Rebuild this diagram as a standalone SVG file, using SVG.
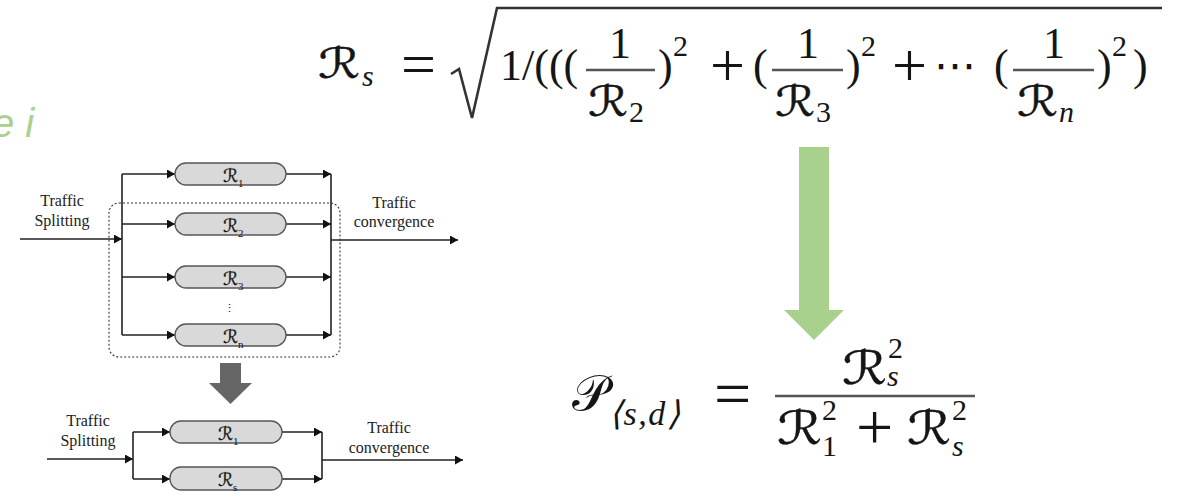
<svg xmlns="http://www.w3.org/2000/svg" width="1179" height="498" viewBox="0 0 1179 498">
<defs>
<marker id="ah" markerUnits="userSpaceOnUse" markerWidth="8" markerHeight="9" refX="8" refY="4.5" orient="auto"><path d="M0,0 L8,4.5 L0,9 z" fill="#111"/></marker>
<style>
.ln{stroke:#222;stroke-width:1.6;fill:none}
.pill{fill:#d9d9d9;stroke:#555;stroke-width:1.3}
.lbl{font-family:"Liberation Serif",serif;font-size:16px;fill:#222;text-anchor:middle}
.pr{font-family:"DejaVu Serif","DejaVu Sans",serif;font-size:18px;fill:#111;stroke:#111;stroke-width:0.3}
.ps{font-family:"Liberation Serif",serif;font-size:11px;fill:#111}
.m{font-family:"Liberation Serif",serif;font-size:44px;fill:#151515}
.mc{font-family:"DejaVu Serif","DejaVu Sans",serif;font-size:42px;fill:#151515;stroke:#151515;stroke-width:0.4}
.mcb{font-size:46px}
.nostroke{stroke:none}
.ms{font-family:"Liberation Serif",serif;font-size:30px;fill:#151515}
.mi{font-family:"Liberation Serif",serif;font-style:italic;font-size:30px;fill:#151515}
.mo{font-family:"Liberation Serif",serif;font-size:62px;fill:#151515}
.bar{stroke:#555;stroke-width:2.6}
</style>
</defs>
<rect width="1179" height="498" fill="#fff"/>
<text x="-8" y="137" font-family="Liberation Sans,sans-serif" font-style="italic" font-size="40" fill="#a9d18e">e i</text>

<g id="connectors">
<line class="ln" x1="20" y1="239" x2="122" y2="239" marker-end="url(#ah)"/>
<line class="ln" x1="122" y1="174" x2="122" y2="335"/>
<line class="ln" x1="122" y1="174" x2="175" y2="174" marker-end="url(#ah)"/>
<line class="ln" x1="122" y1="224" x2="175" y2="224" marker-end="url(#ah)"/>
<line class="ln" x1="122" y1="277" x2="175" y2="277" marker-end="url(#ah)"/>
<line class="ln" x1="122" y1="335" x2="175" y2="335" marker-end="url(#ah)"/>
<line class="ln" x1="286" y1="174" x2="331" y2="174" marker-end="url(#ah)"/>
<line class="ln" x1="286" y1="224" x2="331" y2="224" marker-end="url(#ah)"/>
<line class="ln" x1="286" y1="277" x2="331" y2="277" marker-end="url(#ah)"/>
<line class="ln" x1="286" y1="335" x2="331" y2="335" marker-end="url(#ah)"/>
<line class="ln" x1="331" y1="174" x2="331" y2="335"/>
<line class="ln" x1="331" y1="240" x2="458" y2="240" marker-end="url(#ah)"/>
<rect x="109" y="203" width="231" height="154" rx="10" fill="none" stroke="#333" stroke-width="1.1" stroke-dasharray="2,2"/>

<line class="ln" x1="47" y1="459" x2="133" y2="459" marker-end="url(#ah)"/>
<line class="ln" x1="133" y1="432" x2="133" y2="479"/>
<line class="ln" x1="133" y1="432" x2="170" y2="432" marker-end="url(#ah)"/>
<line class="ln" x1="133" y1="479" x2="170" y2="479" marker-end="url(#ah)"/>
<line class="ln" x1="282" y1="432" x2="322" y2="432" marker-end="url(#ah)"/>
<line class="ln" x1="282" y1="479" x2="322" y2="479" marker-end="url(#ah)"/>
<line class="ln" x1="322" y1="432" x2="322" y2="479"/>
<line class="ln" x1="322" y1="460" x2="463" y2="460" marker-end="url(#ah)"/>
</g>

<g id="n-r1"><rect class="pill" x="175" y="163" width="111" height="22" rx="11"/><text class="pr" x="223" y="182" textLength="15" lengthAdjust="spacingAndGlyphs">ℛ</text><text class="ps" x="238" y="187">1</text></g>
<g id="n-r2"><rect class="pill" x="175" y="213" width="111" height="22" rx="11"/><text class="pr" x="223" y="232" textLength="15" lengthAdjust="spacingAndGlyphs">ℛ</text><text class="ps" x="238" y="237">2</text></g>
<g id="n-r3"><rect class="pill" x="175" y="266" width="111" height="22" rx="11"/><text class="pr" x="223" y="285" textLength="15" lengthAdjust="spacingAndGlyphs">ℛ</text><text class="ps" x="238" y="290">3</text></g>
<g id="n-dots"><text class="ps" x="229" y="312" text-anchor="middle">⋮</text></g>
<g id="n-rn"><rect class="pill" x="175" y="324" width="111" height="22" rx="11"/><text class="pr" x="223" y="343" textLength="15" lengthAdjust="spacingAndGlyphs">ℛ</text><text class="ps" x="238" y="348">n</text></g>

<g id="lbl-split1"><text class="lbl" x="62" y="206">Traffic</text><text class="lbl" x="62" y="226">Splitting</text></g>
<g id="lbl-conv1"><text class="lbl" x="394" y="208">Traffic</text><text class="lbl" x="394" y="227">convergence</text></g>

<g id="gray-arrow"><polygon points="220,363 241,363 241,383 252,383 230.5,404 209,383 220,383" fill="#666"/></g>

<g id="n-b1"><rect class="pill" x="170" y="421" width="112" height="22" rx="11"/><text class="pr" x="218" y="440" textLength="15" lengthAdjust="spacingAndGlyphs">ℛ</text><text class="ps" x="233" y="445">1</text></g>
<g id="n-bs"><rect class="pill" x="170" y="467" width="112" height="23" rx="11"/><text class="pr" x="218" y="486" textLength="15" lengthAdjust="spacingAndGlyphs">ℛ</text><text class="ps" x="233" y="491">s</text></g>
<g id="lbl-split2"><text class="lbl" x="88" y="426">Traffic</text><text class="lbl" x="88" y="446">Splitting</text></g>
<g id="lbl-conv2"><text class="lbl" x="389" y="433">Traffic</text><text class="lbl" x="389" y="453">convergence</text></g>

<g id="green-arrow"><polygon points="799,147 829,147 829,310 844,310 814,340 784,310 799,310" fill="#a9d18e"/></g>

<g id="formula-top">
<text class="mc" x="318" y="78" textLength="42" lengthAdjust="spacingAndGlyphs">ℛ</text><text class="mi" x="362" y="86">s</text>
<text class="mo" x="401" y="85">=</text>
<path d="M451,74 L459,69 L472,118 L497,8 L1162,8" fill="none" stroke="#333" stroke-width="2.6"/>
<text class="m" x="500" y="80">1/(((</text>
<text class="m" x="620" y="58" text-anchor="middle">1</text>
<line class="bar" x1="586" y1="70" x2="655" y2="70"/>
<text class="mc" x="588" y="116" textLength="40" lengthAdjust="spacingAndGlyphs">ℛ</text><text class="ms" x="629" y="122">2</text>
<text class="m" x="658" y="80">)</text><text class="ms" x="673" y="56">2</text>
<text class="mo" x="710" y="86">+</text>
<text class="m" x="753" y="80">(</text>
<text class="m" x="808" y="58" text-anchor="middle">1</text>
<line class="bar" x1="772" y1="70" x2="843" y2="70"/>
<text class="mc" x="775" y="116" textLength="40" lengthAdjust="spacingAndGlyphs">ℛ</text><text class="ms" x="816" y="122">3</text>
<text class="m" x="846" y="80">)</text><text class="ms" x="861" y="56">2</text>
<text class="mo" x="892" y="86">+</text>
<text class="mc nostroke" x="934" y="80">⋯</text>
<text class="m" x="994" y="80">(</text>
<text class="m" x="1054" y="58" text-anchor="middle">1</text>
<line class="bar" x1="1013" y1="70" x2="1094" y2="70"/>
<text class="mc" x="1017" y="116" textLength="41" lengthAdjust="spacingAndGlyphs">ℛ</text><text class="mi" x="1059" y="122">n</text>
<text class="m" x="1097" y="80">)</text><text class="ms" x="1112" y="56">2</text>
<text class="m" x="1133" y="80">)</text>
</g>

<g id="formula-bottom">
<text class="mc nostroke" x="572" y="410" style="font-size:50px">𝒫</text>
<text class="mi" x="609" y="425" style="font-size:34px" letter-spacing="1.5">⟨s,d⟩</text>
<text class="mo" x="714" y="416" style="font-size:66px">=</text>
<line class="bar" x1="775" y1="396" x2="975" y2="396" stroke-width="3"/>
<text class="mc mcb" x="842" y="384" textLength="45" lengthAdjust="spacingAndGlyphs">ℛ</text><text class="ms" x="888" y="358">2</text><text class="mi" x="887" y="386">s</text>
<text class="mc mcb" x="777" y="444" textLength="45" lengthAdjust="spacingAndGlyphs">ℛ</text><text class="ms" x="822" y="420">2</text><text class="ms" x="822" y="456">1</text>
<text class="mo" x="856" y="449" style="font-size:66px">+</text>
<text class="mc mcb" x="907" y="444" textLength="44" lengthAdjust="spacingAndGlyphs">ℛ</text><text class="ms" x="952" y="420">2</text><text class="mi" x="952" y="456">s</text>
</g>
</svg>
